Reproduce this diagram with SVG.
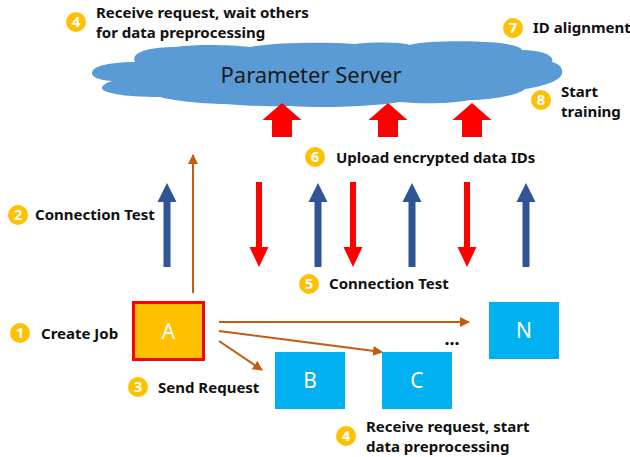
<svg xmlns="http://www.w3.org/2000/svg" width="630" height="457" viewBox="0 0 630 457">
  <style>
    .lbl { font-family: "Noto Sans", "Open Sans", "Liberation Sans", sans-serif; font-size: 15px; font-weight: bold; fill: #111; }
    .num { font-family: "Noto Sans", "Liberation Sans", sans-serif; font-size: 15px; font-weight: bold; fill: #fff; text-anchor: middle; }
    .badge { fill: #FFC000; }
    .node-label { font-family: "Noto Sans", "Liberation Sans", sans-serif; font-size: 21px; fill: #fff; text-anchor: middle; }
    .up-blue { fill: #2F5597; }
    .down-red { fill: #FF0000; }
    .link { stroke: #C55A11; stroke-width: 2; fill: none; marker-end: url(#head); }
  </style>
  <defs>
    <marker id="head" viewBox="0 0 10 10" refX="9" refY="5" markerWidth="5" markerHeight="5" orient="auto" markerUnits="strokeWidth">
      <path d="M0,0 L10,5 L0,10 Z" fill="#C55A11"/>
    </marker>
    <!-- thin blue upward arrow, tip at origin -->
    <path id="blueUp" d="M0,0 L9.5,19 L3.5,19 L3.5,84 L-3.5,84 L-3.5,19 L-9.5,19 Z"/>
    <!-- thin red downward arrow, tip at origin -->
    <path id="redDown" d="M0,0 L9.5,-20 L3,-20 L3,-85 L-3,-85 L-3,-20 L-9.5,-20 Z"/>
    <!-- wide red block arrow pointing up, tip at origin -->
    <path id="redBlock" d="M0,0 L19.5,17 L10,17 L10,34 L-10,34 L-10,17 L-19.5,17 Z"/>
  </defs>

  <!-- Parameter server cloud -->
  <g id="server">
    <path fill="#5B9BD5" d="M92,73 C92,66 110,62 135,62 C130,52 150,47 175,47 C200,44 230,45 250,47 C275,42 330,42 355,44 C375,42 400,42 410,45 C420,41 470,40 500,43 C515,45 522,48 522,50 C540,50 555,55 552,62 C560,64 563,69 562,73 C562,80 545,86 525,89 C520,95 490,100 470,100 C450,104 420,104 400,102 C370,107 320,108 290,106 C260,107 240,105 225,104 C200,104 170,100 160,97 C120,97 100,92 102,87 C104,84 108,82 112,81 C98,80 92,77 92,73 Z"/>
    <text x="311" y="83" font-family="'Noto Sans', 'Liberation Sans', sans-serif" font-size="22" fill="#1a1a1a" text-anchor="middle">Parameter Server</text>
  </g>

  <!-- Nodes -->
  <g id="node-a">
    <rect x="133.5" y="302.5" width="70" height="57" fill="#FFC000" stroke="#FF0000" stroke-width="3"/>
    <text class="node-label" x="168.5" y="339">A</text>
  </g>
  <g id="node-b">
    <rect x="275" y="352" width="70" height="57" fill="#00B0F0"/>
    <text class="node-label" x="310" y="388">B</text>
  </g>
  <g id="node-c">
    <rect x="382" y="352" width="70" height="57" fill="#00B0F0"/>
    <text class="node-label" x="417" y="388">C</text>
  </g>
  <g id="node-n">
    <rect x="489" y="302" width="70" height="57" fill="#00B0F0"/>
    <text class="node-label" x="524" y="338">N</text>
  </g>
  <g id="ellipsis">
    <text x="452" y="345" font-family="'Noto Sans', 'Liberation Sans', sans-serif" font-size="18" font-weight="bold" fill="#111" text-anchor="middle">...</text>
  </g>

  <!-- Connectors -->
  <g id="connectors">
    <!-- requests sent from A -->
    <line class="link" x1="219" y1="322" x2="469" y2="322"/>
    <line class="link" x1="219" y1="331" x2="382" y2="352"/>
    <line class="link" x1="219" y1="341" x2="262" y2="370"/>
    <line class="link" x1="193" y1="293" x2="193" y2="155"/>

    <!-- connection tests (up) -->
    <use href="#blueUp" class="up-blue" x="167" y="183"/>
    <use href="#blueUp" class="up-blue" x="318" y="183"/>
    <use href="#blueUp" class="up-blue" x="412" y="183"/>
    <use href="#blueUp" class="up-blue" x="526" y="183"/>

    <!-- connection tests (down) -->
    <use href="#redDown" class="down-red" x="259" y="267"/>
    <use href="#redDown" class="down-red" x="353" y="267"/>
    <use href="#redDown" class="down-red" x="467" y="267"/>

    <!-- encrypted id uploads -->
    <use href="#redBlock" fill="#FF0000" x="282" y="103"/>
    <use href="#redBlock" fill="#FF0000" x="388" y="103"/>
    <use href="#redBlock" fill="#FF0000" x="472" y="103"/>
  </g>

  <!-- Step labels -->
  <g id="step-1">
    <circle class="badge" cx="20" cy="333" r="10"/>
    <text class="num" x="20" y="338">1</text>
    <text class="lbl" x="41" y="339">Create Job</text>
  </g>
  <g id="step-2">
    <circle class="badge" cx="18" cy="215" r="10"/>
    <text class="num" x="18" y="220">2</text>
    <text class="lbl" x="35" y="220">Connection Test</text>
  </g>
  <g id="step-3">
    <circle class="badge" cx="138" cy="387" r="10"/>
    <text class="num" x="138" y="392">3</text>
    <text class="lbl" x="158" y="393">Send Request</text>
  </g>
  <g id="step-4-server">
    <circle class="badge" cx="76" cy="22" r="10"/>
    <text class="num" x="76" y="27">4</text>
    <text class="lbl" x="96" y="18">Receive request, wait others</text>
    <text class="lbl" x="96" y="38">for data preprocessing</text>
  </g>
  <g id="step-4-client">
    <circle class="badge" cx="346" cy="436" r="10"/>
    <text class="num" x="346" y="441">4</text>
    <text class="lbl" x="366" y="432">Receive request, start</text>
    <text class="lbl" x="366" y="452">data preprocessing</text>
  </g>
  <g id="step-5">
    <circle class="badge" cx="309" cy="284" r="10"/>
    <text class="num" x="309" y="289">5</text>
    <text class="lbl" x="329" y="289">Connection Test</text>
  </g>
  <g id="step-6">
    <circle class="badge" cx="315" cy="157" r="10"/>
    <text class="num" x="315" y="162">6</text>
    <text class="lbl" x="336" y="163">Upload encrypted data IDs</text>
  </g>
  <g id="step-7">
    <circle class="badge" cx="513" cy="28" r="10"/>
    <text class="num" x="513" y="33">7</text>
    <text class="lbl" x="533" y="33">ID alignment</text>
  </g>
  <g id="step-8">
    <circle class="badge" cx="541" cy="100" r="10"/>
    <text class="num" x="541" y="105">8</text>
    <text class="lbl" x="561" y="97">Start</text>
    <text class="lbl" x="561" y="117">training</text>
  </g>
</svg>
